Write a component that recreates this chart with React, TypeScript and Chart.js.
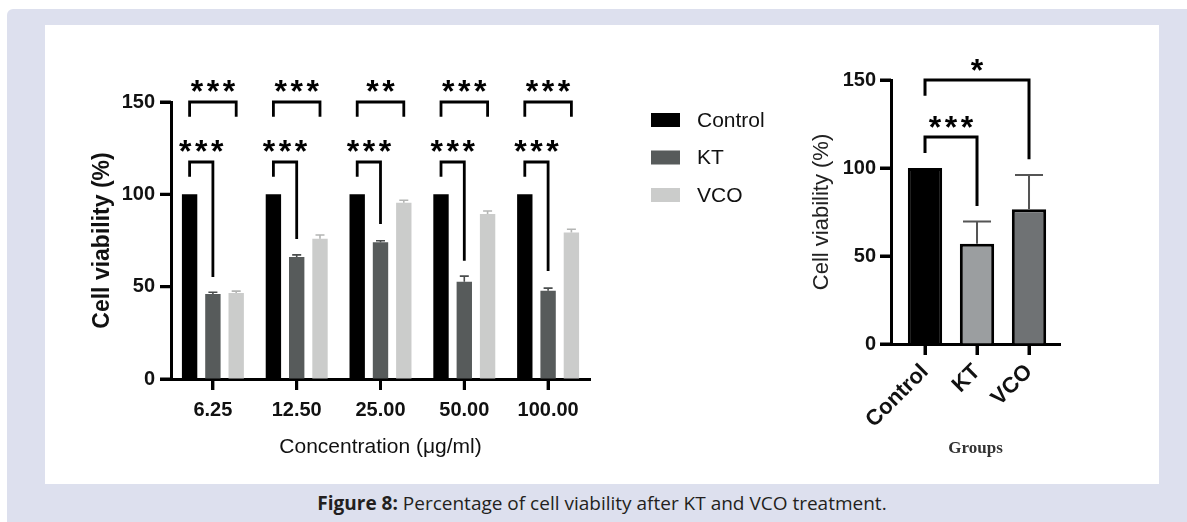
import React, { useEffect, useRef } from "react";
import { Chart, registerables } from "chart.js";

Chart.register(...registerables);

// ---------- Left chart data ----------
const concentrations = ["6.25", "12.50", "25.00", "50.00", "100.00"];
const seriesNames = ["Control", "KT", "VCO"];
const controlValues = [100, 100, 100, 100, 100];
const ktValues = [46, 66, 74, 52.7, 47.8];
const vcoValues = [46.6, 76, 95.5, 89.4, 79.3];
const controlErrors = [0, 0, 0, 0, 0];
const ktErrors = [1, 1.2, 0.9, 3, 1.4];
const vcoErrors = [1, 2, 1.3, 1.6, 1.8];
const seriesColors = ["#000000", "#575b5b", "#cbcccb"];
const errorColors = ["#000000", "#4a4d4d", "#b4b5b4"];

// significance brackets, left chart (Control vs KT = lower, Control vs VCO = upper)
const ktStars = ["***", "***", "***", "***", "***"];
const vcoStars = ["***", "***", "**", "***", "***"];
const ktBracketTop = 117.5;
const ktBracketLeftEnd = 109.5;
const ktBracketRightEnd = [55.3, 75.8, 84, 64, 58.5];
const vcoBracketTop = 150;
const vcoBracketLegEnd = 142;

// ---------- Right chart data ----------
const groups = ["Control", "KT", "VCO"];
const groupMeans = [100, 57, 76.5];
const groupErrors = [0, 12.6, 19.5];
const groupColors = ["#000000", "#9b9ea0", "#6f7274"];
const compareFrom = [0, 0];
const compareTo = [1, 2];
const compareTop = [117.6, 150];
const compareFromEnd = [108.5, 141];
const compareToEnd = [78.4, 105];
const compareStars = ["***", "*"];

const SANS = "'Liberation Sans', Arial, sans-serif";

function drawStars(ctx: CanvasRenderingContext2D, cx: number, cy: number, label: string) {
  const size = 32;
  const spacing = 16;
  ctx.save();
  ctx.fillStyle = "#000";
  ctx.font = `bold ${size}px ${SANS}`;
  ctx.textAlign = "center";
  ctx.textBaseline = "alphabetic";
  const n = label.length;
  for (let k = 0; k < n; k++) {
    const x = cx + (k - (n - 1) / 2) * spacing;
    ctx.fillText("*", x, cy + size * 0.565);
  }
  ctx.restore();
}

function drawBracket(ctx: CanvasRenderingContext2D, x1: number, x2: number, yTop: number, y1: number, y2: number, lw: number) {
  ctx.save();
  ctx.strokeStyle = "#000";
  ctx.lineWidth = lw;
  ctx.lineJoin = "miter";
  ctx.lineCap = "butt";
  ctx.beginPath();
  ctx.moveTo(x1, y1);
  ctx.lineTo(x1, yTop);
  ctx.lineTo(x2, yTop);
  ctx.lineTo(x2, y2);
  ctx.stroke();
  ctx.restore();
}

function drawErrorBars(chart: any, errs: number[][], colors: string[], lw: number, cap: number) {
  const ctx = chart.ctx as CanvasRenderingContext2D;
  const y = chart.scales.y;
  chart.data.datasets.forEach((ds: any, d: number) => {
    const meta = chart.getDatasetMeta(d);
    meta.data.forEach((bar: any, i: number) => {
      const e = errs[d][i];
      if (!e) return;
      const top = y.getPixelForValue(meta._parsed[i].y + e);
      ctx.save();
      ctx.strokeStyle = colors[d];
      ctx.lineWidth = lw;
      ctx.beginPath();
      ctx.moveTo(bar.x, bar.y);
      ctx.lineTo(bar.x, top);
      ctx.moveTo(bar.x - cap / 2, top);
      ctx.lineTo(bar.x + cap / 2, top);
      ctx.stroke();
      ctx.restore();
    });
  });
}

function drawTickMarks(chart: any, len: number, width: number) {
  const ctx = chart.ctx as CanvasRenderingContext2D;
  const xs = chart.scales.x;
  const ys = chart.scales.y;
  const area = chart.chartArea;
  ctx.save();
  ctx.strokeStyle = "#000";
  ctx.lineWidth = width;
  ctx.lineCap = "butt";
  ctx.beginPath();
  xs.ticks.forEach((t: any) => {
    const px = xs.getPixelForValue(t.value);
    ctx.moveTo(px, area.bottom);
    ctx.lineTo(px, area.bottom + len);
  });
  ys.ticks.forEach((t: any) => {
    const py = ys.getPixelForValue(t.value);
    ctx.moveTo(area.left, py);
    ctx.lineTo(area.left - len, py);
  });
  ctx.stroke();
  ctx.restore();
}

const leftAnnotations = {
  id: "leftAnnotations",
  afterDatasetsDraw(chart: any) {
    const ctx = chart.ctx as CanvasRenderingContext2D;
    const y = chart.scales.y;
    drawErrorBars(chart, [controlErrors, ktErrors, vcoErrors], errorColors, 1.6, 9);
    drawTickMarks(chart, 11, 3);
    const c = chart.getDatasetMeta(0).data;
    const k = chart.getDatasetMeta(1).data;
    const v = chart.getDatasetMeta(2).data;
    concentrations.forEach((_, i) => {
      const yt = y.getPixelForValue(ktBracketTop);
      drawBracket(ctx, c[i].x, k[i].x, yt, y.getPixelForValue(ktBracketLeftEnd), y.getPixelForValue(ktBracketRightEnd[i]), 2.8);
      drawStars(ctx, (c[i].x + k[i].x) / 2, yt - 18, ktStars[i]);
      const yu = y.getPixelForValue(vcoBracketTop);
      drawBracket(ctx, c[i].x, v[i].x, yu, y.getPixelForValue(vcoBracketLegEnd), y.getPixelForValue(vcoBracketLegEnd), 2.8);
      drawStars(ctx, (c[i].x + v[i].x) / 2, yu - 18, vcoStars[i]);
    });
    // legend
    const area = chart.chartArea;
    ctx.save();
    chart.data.datasets.forEach((ds: any, d: number) => {
      const cy = area.top + 18 + d * 37.5;
      const bx = area.right + 61;
      ctx.fillStyle = ds.backgroundColor;
      ctx.fillRect(bx, cy - 7, 29, 14);
      ctx.fillStyle = "#111";
      ctx.font = `21px ${SANS}`;
      ctx.textAlign = "left";
      ctx.textBaseline = "middle";
      ctx.fillText(ds.label, bx + 46, cy + 1);
    });
    ctx.restore();
  },
};

const rightAnnotations = {
  id: "rightAnnotations",
  afterDatasetsDraw(chart: any) {
    const ctx = chart.ctx as CanvasRenderingContext2D;
    const y = chart.scales.y;
    drawErrorBars(chart, [groupErrors], ["#555555"], 2, 28);
    drawTickMarks(chart, 11, 3);
    const bars = chart.getDatasetMeta(0).data;
    compareFrom.forEach((f, j) => {
      const t = compareTo[j];
      const yt = y.getPixelForValue(compareTop[j]);
      drawBracket(ctx, bars[f].x, bars[t].x, yt, y.getPixelForValue(compareFromEnd[j]), y.getPixelForValue(compareToEnd[j]), 3);
      drawStars(ctx, (bars[f].x + bars[t].x) / 2, yt - 17.5, compareStars[j]);
    });
  },
};

function LeftChart() {
  const ref = useRef<HTMLCanvasElement>(null);
  useEffect(() => {
    const chart = new Chart(ref.current!, {
      type: "bar",
      data: {
        labels: concentrations,
        datasets: [
          { label: seriesNames[0], data: controlValues, backgroundColor: seriesColors[0] },
          { label: seriesNames[1], data: ktValues, backgroundColor: seriesColors[1] },
          { label: seriesNames[2], data: vcoValues, backgroundColor: seriesColors[2] },
        ],
      },
      options: {
        responsive: false,
        animation: false,
        layout: { padding: { top: 77, right: 215, left: 0, bottom: 0 } },
        datasets: { bar: { categoryPercentage: 0.834, barPercentage: 0.66 } },
        plugins: { legend: { display: false }, tooltip: { enabled: false } },
        scales: {
          x: {
            grid: { display: true, drawOnChartArea: false, drawTicks: true, tickLength: 11, tickWidth: 3, tickColor: "#000", offset: false },
            border: { display: true, color: "#000", width: 3 },
            ticks: { font: { family: SANS, size: 20, weight: "bold" }, color: "#111", padding: 8, maxRotation: 0, autoSkip: false },
            title: { display: true, text: "Concentration (μg/ml)", font: { family: SANS, size: 21 }, color: "#111", padding: { top: 0, bottom: 15 } },
            afterFit: (s: any) => { s.height = 96; },
          },
          y: {
            min: 0,
            max: 150,
            ticks: { stepSize: 50, font: { family: SANS, size: 20, weight: "bold" }, color: "#111", padding: 5 },
            grid: { display: true, drawOnChartArea: false, drawTicks: true, tickLength: 11, tickWidth: 3, tickColor: "#000" },
            border: { display: true, color: "#000", width: 3 },
            title: { display: true, text: "Cell viability (%)", font: { family: SANS, size: 23, weight: "bold" }, color: "#111", padding: { top: 44, bottom: 0 } },
            afterFit: (s: any) => { s.width = 126; },
          },
        },
      } as any,
      plugins: [leftAnnotations],
    });
    return () => chart.destroy();
  }, []);
  return <canvas ref={ref} width={760} height={450} style={{ position: "absolute", left: 45, top: 25, width: 760, height: 450 }} />;
}

function RightChart() {
  const ref = useRef<HTMLCanvasElement>(null);
  useEffect(() => {
    const chart = new Chart(ref.current!, {
      type: "bar",
      data: {
        datasets: [
          {
            label: "Cell viability",
            data: groupMeans.map((m, i) => ({ x: i, y: m })),
            backgroundColor: groupColors,
            borderColor: "#000",
            borderWidth: 3,
          },
        ],
      },
      options: {
        responsive: false,
        animation: false,
        layout: { padding: { top: 55, right: 30, left: 0, bottom: 0 } },
        datasets: { bar: { categoryPercentage: 1, barPercentage: 0.66 } },
        plugins: { legend: { display: false }, tooltip: { enabled: false } },
        scales: {
          x: {
            type: "linear",
            min: -0.654,
            max: 2.596,
            offset: false,
            afterBuildTicks: (s: any) => { s.ticks = groups.map((_, i) => ({ value: i })); },
            grid: { display: true, drawOnChartArea: false, drawTicks: true, tickLength: 11, tickWidth: 3, tickColor: "#000", offset: false },
            border: { display: true, color: "#000", width: 3 },
            ticks: {
              callback: (v: any) => groups[v] ?? "",
              font: { family: SANS, size: 22, weight: "bold" },
              color: "#111",
              padding: 4,
              minRotation: 45,
              maxRotation: 45,
              autoSkip: false,
            },
            title: { display: true, text: "Groups", font: { family: "'Liberation Serif', 'Times New Roman', serif", size: 17, weight: "bold" }, color: "#333", padding: { top: 0, bottom: 16 } },
            afterFit: (s: any) => { s.height = 131; },
          },
          y: {
            min: 0,
            max: 150,
            ticks: { stepSize: 50, font: { family: SANS, size: 20, weight: "bold" }, color: "#111", padding: 4 },
            grid: { display: true, drawOnChartArea: false, drawTicks: true, tickLength: 11, tickWidth: 3, tickColor: "#000" },
            border: { display: true, color: "#000", width: 3 },
            title: { display: true, text: "Cell viability (%)", font: { family: SANS, size: 22 }, color: "#222", padding: { top: 19, bottom: 0 } },
            afterFit: (s: any) => { s.width = 101; },
          },
        },
      } as any,
      plugins: [rightAnnotations],
    });
    return () => chart.destroy();
  }, []);
  return <canvas ref={ref} width={300} height={450} style={{ position: "absolute", left: 790, top: 25, width: 300, height: 450 }} />;
}

export default function App() {
  return (
    <div style={{ position: "absolute", left: 0, top: 0, width: 1187, height: 522, overflow: "hidden", background: "#fff" }}>
      <div style={{ position: "absolute", left: 7, top: 9, width: 1200, height: 540, background: "#dde0ee", borderTopLeftRadius: 6 }} />
      <div style={{ position: "absolute", left: 45, top: 25, width: 1114, height: 459, background: "#fff" }} />
      <LeftChart />
      <RightChart />
      <div
        style={{
          position: "absolute",
          left: 45,
          top: 492,
          width: 1114,
          textAlign: "center",
          fontFamily: "'Open Sans', sans-serif",
          fontSize: 19,
          lineHeight: "22px",
          color: "#231f20",
        }}
      >
        <b>Figure 8:</b> Percentage of cell viability after KT and VCO treatment.
      </div>
    </div>
  );
}
